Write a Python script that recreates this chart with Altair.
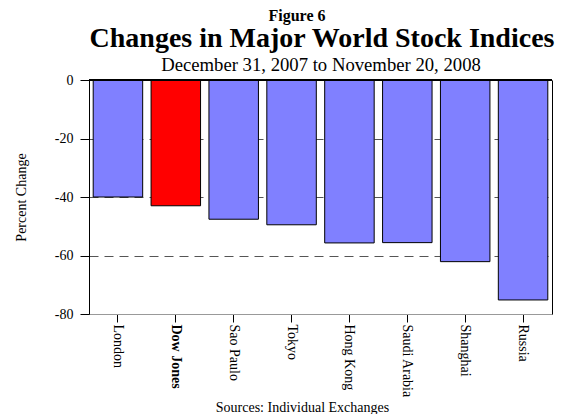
import altair as alt
import pandas as pd

markets = ["London", "Dow Jones", "Sao Paulo", "Tokyo", "Hong Kong",
           "Saudi Arabia", "Shanghai", "Russia"]
changes = [-40.0, -43.0, -47.6, -49.5, -55.7, -55.6, -62.1, -75.2]
bar_colors = ["#8080FF", "#FF0000", "#8080FF", "#8080FF", "#8080FF",
              "#8080FF", "#8080FF", "#8080FF"]
y_ticks = [0, -20, -40, -60, -80]

fig_text = ["Figure 6"]
main_title = ["Changes in Major World Stock Indices"]
sub_title = ["December 31, 2007 to November 20, 2008"]

df = pd.DataFrame({"market": markets, "change": changes, "color": bar_colors})

FONT = "Liberation Serif"
W, H = 463, 234

x_enc = alt.X(
    "market:N", sort=markets,
    scale=alt.Scale(paddingInner=0.145, paddingOuter=0.0725),
    axis=alt.Axis(
        title="Sources: Individual Exchanges", titleFont=FONT, titleFontSize=14,
        titleFontWeight="normal", titleColor="black", titleX=213, titleY=97,
        titleAlign="center", titleBaseline="alphabetic",
        labelAngle=90, labelFont=FONT, labelFontSize=14, labelColor="black",
        labelPadding=2,
        labelFontWeight={"expr": "datum.value == 'Dow Jones' ? 'bold' : 'normal'"},
        tickSize=8, tickColor="black", domainColor="#999999", grid=False,
    ),
)
y_enc = alt.Y(
    "change:Q", scale=alt.Scale(domain=[-80, 0], nice=False),
    axis=alt.Axis(
        values=y_ticks, labelExpr="'' + datum.value",
        title="Percent Change", titleFont=FONT, titleFontSize=14,
        titleFontWeight="normal", titleColor="black", titleAngle=-90,
        titleX=-64, titleY=117, titleAlign="center", titleBaseline="alphabetic",
        labelFont=FONT, labelFontSize=14, labelColor="black", labelPadding=7,
        tickSize=9, tickColor="black", domainColor="black",
        grid=True, gridDash=[9, 6], gridColor="#555555", gridWidth=1,
    ),
)

bars = alt.Chart(df).mark_bar(stroke="black", strokeWidth=1).encode(
    x=x_enc, y=y_enc, color=alt.Color("color:N", scale=None)
)

top_rule = alt.Chart(df).mark_rule(color="black", strokeWidth=1).encode(
    y=alt.YDatum(0, type="quantitative",
                 axis=alt.Axis(orient="right", labels=False, ticks=False,
                               grid=False, title=None, domainColor="black"))
)


def text_layer(values, size, weight, xpos, ypos):
    return alt.Chart(pd.DataFrame({"t": values})).mark_text(
        font=FONT, fontSize=size, fontWeight=weight, color="black",
        align="center", baseline="alphabetic"
    ).encode(text="t:N", x=alt.value(xpos), y=alt.value(ypos))


fig_label = text_layer(fig_text, 16, "bold", 208, -59.5)
title_label = text_layer(main_title, 28, "bold", 233, -33)
sub_label = text_layer(sub_title, 18.7, "normal", 232, -9)

chart = alt.layer(bars, top_rule, fig_label, title_label, sub_label).resolve_axis(
    y="independent"
).properties(
    width=W, height=H,
    autosize=alt.AutoSizeParams(type="none"),
    padding={"left": 81, "top": 72, "right": 6, "bottom": 100},
).configure_view(stroke=None).configure(background="white")

chart.save("out.html", embed_options={"renderer": "svg", "actions": False})
